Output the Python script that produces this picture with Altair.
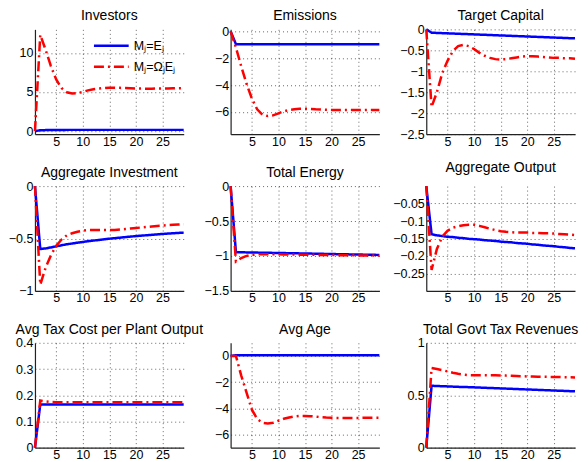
import altair as alt
import pandas as pd

periods = list(range(1, 30))
series_names = ["Mⱼ=Eⱼ", "Mⱼ=ΩⱼEⱼ"]
line_colors = ["#0000ff", "#ff0000"]
line_dashes = [[1, 0], [10, 4, 2, 4]]

titles = ["Investors", "Emissions", "Target Capital",
          "Aggregate Investment", "Total Energy", "Aggregate Output",
          "Avg Tax Cost per Plant Output", "Avg Age", "Total Govt Tax Revenues"]

investors_blue = [0.0, 0.10, 0.12, 0.13, 0.14, 0.14, 0.15, 0.15, 0.15, 0.15,
                  0.15, 0.15, 0.15, 0.15, 0.15, 0.15, 0.15, 0.15, 0.15, 0.15,
                  0.15, 0.15, 0.15, 0.15, 0.15, 0.15, 0.15, 0.15, 0.15]
investors_red = [0.0, 12.3, 10.4, 8.3, 6.6, 5.5, 4.95, 4.8, 4.85, 5.0,
                 5.2, 5.35, 5.45, 5.5, 5.55, 5.55, 5.52, 5.5, 5.47, 5.45,
                 5.43, 5.42, 5.42, 5.43, 5.44, 5.45, 5.46, 5.47, 5.48]

emissions_blue = [0.0, -0.95, -0.95, -0.95, -0.95, -0.95, -0.95, -0.95, -0.95, -0.95,
                  -0.95, -0.95, -0.95, -0.95, -0.955, -0.955, -0.955, -0.955, -0.955, -0.955,
                  -0.96, -0.96, -0.96, -0.96, -0.96, -0.96, -0.96, -0.96, -0.96]
emissions_red = [0.0, -1.2, -2.6, -3.9, -5.0, -5.8, -6.2, -6.3, -6.25, -6.1,
                 -5.95, -5.85, -5.8, -5.75, -5.75, -5.77, -5.8, -5.82, -5.84, -5.85,
                 -5.86, -5.86, -5.86, -5.86, -5.86, -5.86, -5.85, -5.85, -5.85]

capital_blue = [0.0, -0.08, -0.085, -0.09, -0.095, -0.10, -0.105, -0.11, -0.115, -0.12,
                -0.125, -0.13, -0.135, -0.14, -0.145, -0.15, -0.155, -0.16, -0.165, -0.17,
                -0.175, -0.18, -0.185, -0.19, -0.195, -0.20, -0.205, -0.21, -0.215]
capital_red = [0.0, -1.85, -1.5, -1.05, -0.75, -0.52, -0.4, -0.37, -0.4, -0.47,
               -0.56, -0.63, -0.68, -0.71, -0.72, -0.71, -0.69, -0.67, -0.65, -0.64,
               -0.64, -0.65, -0.66, -0.67, -0.68, -0.68, -0.69, -0.69, -0.70]

investment_blue = [0.0, -0.60, -0.595, -0.585, -0.575, -0.565, -0.555, -0.548, -0.54, -0.533,
                   -0.526, -0.52, -0.514, -0.508, -0.502, -0.497, -0.492, -0.487, -0.482, -0.477,
                   -0.473, -0.469, -0.465, -0.461, -0.457, -0.453, -0.45, -0.447, -0.444]
investment_red = [0.0, -0.94, -0.78, -0.66, -0.57, -0.51, -0.47, -0.45, -0.435, -0.425,
                  -0.42, -0.42, -0.42, -0.42, -0.42, -0.418, -0.414, -0.41, -0.405, -0.40,
                  -0.395, -0.39, -0.385, -0.38, -0.377, -0.373, -0.37, -0.367, -0.363]

energy_blue = [0.0, -0.945, -0.947, -0.949, -0.95, -0.952, -0.953, -0.955, -0.956, -0.958,
               -0.959, -0.96, -0.962, -0.963, -0.965, -0.966, -0.968, -0.969, -0.971, -0.972,
               -0.974, -0.975, -0.977, -0.978, -0.98, -0.981, -0.983, -0.984, -0.985]
energy_red = [0.0, -1.08, -1.03, -1.0, -0.985, -0.978, -0.975, -0.975, -0.976, -0.977,
              -0.978, -0.979, -0.98, -0.981, -0.982, -0.983, -0.984, -0.985, -0.986, -0.987,
              -0.988, -0.989, -0.99, -0.991, -0.992, -0.993, -0.994, -0.995, -0.996]

output_blue = [0.0, -0.138, -0.141, -0.143, -0.145, -0.146, -0.148, -0.149, -0.151, -0.152,
               -0.153, -0.155, -0.156, -0.157, -0.159, -0.160, -0.161, -0.163, -0.164, -0.165,
               -0.167, -0.168, -0.170, -0.171, -0.172, -0.174, -0.175, -0.177, -0.178]
output_red = [0.0, -0.24, -0.18, -0.145, -0.128, -0.119, -0.115, -0.112, -0.111, -0.111,
              -0.114, -0.118, -0.122, -0.126, -0.129, -0.131, -0.132, -0.133, -0.133, -0.133,
              -0.134, -0.134, -0.135, -0.135, -0.136, -0.137, -0.138, -0.139, -0.14]

taxcost_blue = [0.0, 0.165, 0.165, 0.165, 0.165, 0.165, 0.165, 0.165, 0.165, 0.165,
                0.165, 0.165, 0.165, 0.165, 0.165, 0.165, 0.165, 0.165, 0.165, 0.165,
                0.165, 0.165, 0.165, 0.165, 0.165, 0.165, 0.165, 0.165, 0.165]
taxcost_red = [0.0, 0.18, 0.176, 0.174, 0.173, 0.173, 0.173, 0.173, 0.173, 0.173,
               0.173, 0.173, 0.173, 0.173, 0.173, 0.173, 0.173, 0.173, 0.173, 0.173,
               0.173, 0.173, 0.173, 0.173, 0.173, 0.173, 0.173, 0.173, 0.173]

age_blue = [0.0, 0.05, 0.05, 0.05, 0.05, 0.05, 0.05, 0.05, 0.05, 0.05,
            0.05, 0.05, 0.05, 0.05, 0.05, 0.05, 0.05, 0.05, 0.05, 0.05,
            0.05, 0.05, 0.05, 0.05, 0.05, 0.05, 0.05, 0.05, 0.05]
age_red = [0.0, 0.0, -1.5, -2.8, -4.1, -4.8, -5.1, -5.15, -5.1, -4.95,
           -4.8, -4.7, -4.62, -4.58, -4.58, -4.6, -4.63, -4.67, -4.7, -4.72,
           -4.73, -4.73, -4.73, -4.73, -4.73, -4.72, -4.72, -4.72, -4.72]

revenue_blue = [0.0, 0.59, 0.588, 0.586, 0.584, 0.582, 0.58, 0.578, 0.577, 0.575,
                0.573, 0.571, 0.569, 0.567, 0.565, 0.563, 0.561, 0.559, 0.557, 0.555,
                0.553, 0.551, 0.549, 0.547, 0.545, 0.543, 0.541, 0.539, 0.537]
revenue_red = [0.0, 0.76, 0.75, 0.74, 0.727, 0.715, 0.705, 0.697, 0.692, 0.69,
               0.69, 0.69, 0.69, 0.69, 0.689, 0.687, 0.685, 0.683, 0.681, 0.679,
               0.678, 0.677, 0.676, 0.675, 0.674, 0.673, 0.672, 0.671, 0.67]

y_domains = [[-0.4, 13], [-7.65, 0.15], [-2.5, 0],
             [-1, 0], [-1.5, 0], [-0.3, 0],
             [0, 0.4], [-7, 1], [0, 1]]
y_ticks = [[0, 5, 10], [-6, -4, -2, 0], [-2.5, -2, -1.5, -1, -0.5, 0],
           [-1, -0.5, 0], [-1.5, -1, -0.5, 0], [-0.25, -0.2, -0.15, -0.1, -0.05],
           [0, 0.1, 0.2, 0.3, 0.4], [-6, -4, -2, 0], [0, 0.5, 1]]
x_ticks = [5, 10, 15, 20, 25]
# title gap compensation: panels whose top tick label does not overhang the plot top
title_offsets = [6, 2, 0, 0, 0, 6, 0, 6, 0]

blues = [investors_blue, emissions_blue, capital_blue, investment_blue, energy_blue,
         output_blue, taxcost_blue, age_blue, revenue_blue]
reds = [investors_red, emissions_red, capital_red, investment_red, energy_red,
        output_red, taxcost_red, age_red, revenue_red]

FONT = "Liberation Sans"

charts = []
for i in range(9):
    df = pd.DataFrame({
        "t": periods + periods,
        "v": blues[i] + reds[i],
        "s": [series_names[0]] * len(periods) + [series_names[1]] * len(periods),
    })
    if i == 0:
        leg = alt.Legend(orient="none", legendX=69, legendY=9, title=None,
                         symbolType="M-2.9,0H2.9", symbolStrokeWidth=2.5, symbolSize=144,
                         symbolFillColor="transparent",
                         labelFont=FONT, labelFontSize=12.5, labelColor="#000",
                         padding=0, rowPadding=7, labelOffset=15)
        color = alt.Color("s:N", scale=alt.Scale(domain=series_names, range=line_colors), legend=leg)
        dash = alt.StrokeDash("s:N", scale=alt.Scale(domain=series_names, range=line_dashes), legend=leg)
    else:
        color = alt.Color("s:N", scale=alt.Scale(domain=series_names, range=line_colors), legend=None)
        dash = alt.StrokeDash("s:N", scale=alt.Scale(domain=series_names, range=line_dashes), legend=None)
    ch = alt.Chart(df).mark_line(strokeWidth=2.5).encode(
        x=alt.X("t:Q", scale=alt.Scale(domain=[1, 29], nice=False, zero=False),
                axis=alt.Axis(values=x_ticks, format="d", title=None, labelPadding=1)),
        y=alt.Y("v:Q", scale=alt.Scale(domain=y_domains[i], nice=False, zero=False),
                axis=alt.Axis(values=y_ticks[i], format="~r", title=None)),
        color=color,
        strokeDash=dash,
    ).properties(
        width=149, height=105,
        title=alt.TitleParams(text=titles[i], fontSize=14, font=FONT, fontWeight="normal",
                              color="#000", offset=title_offsets[i], frame="group",
                              anchor="middle"),
    )
    charts.append(ch)

chart = alt.concat(*charts, columns=3, spacing=alt.RowColnumber(row=52, column=47),
                   bounds="flush").resolve_legend(
    color="independent", strokeDash="independent"
).properties(
    padding={"left": 0, "top": 1, "right": 0, "bottom": 0}
).configure_axis(
    labelFont=FONT, labelFontSize=12.5, labelColor="#000",
    grid=True, gridDash=[1, 3], gridColor="#000", gridOpacity=0.6, gridWidth=1,
    domainColor="#222", domainWidth=1.2, ticks=False, tickSize=0, labelPadding=2,
).configure_view(strokeWidth=0)

chart.save("out.html", embed_options={"renderer": "svg", "actions": False})
